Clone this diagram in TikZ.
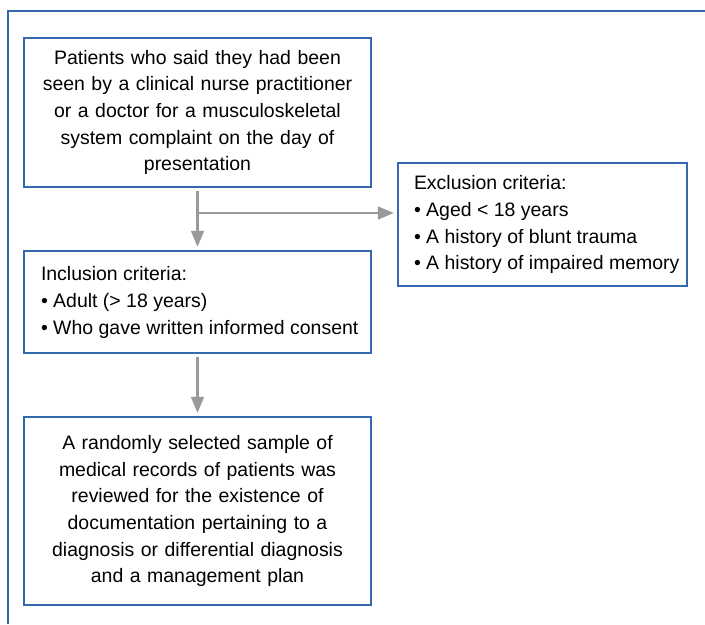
\documentclass[tikz,border=0pt]{standalone}
\usepackage{fontspec}
\setmainfont{Liberation Sans}
\usepackage{tikz}
\usetikzlibrary{arrows.meta}
\definecolor{frameblue}{HTML}{3468B0}
\definecolor{arrowgray}{HTML}{9A9A9A}

\begin{document}
\begin{tikzpicture}[x=0.75pt,y=-0.75pt,
	font=\fontsize{14.6}{20}\selectfont,
	box/.style={draw=frameblue,line width=1.1pt,inner sep=0pt,minimum width=260.25pt},
	flow/.style={-{Triangle[length=12pt,width=9.5pt]},line width=1.9pt,color=arrowgray,shorten <=2.5pt,shorten >=2.5pt}]
	\useasboundingbox (0,0) rectangle (705,624);
	\draw [frameblue,line width=0.9pt] (8,624) -- (8,11) -- (705,11);

	\node [box,minimum height=111.75pt,text width=240pt,align=center] (patients) at (197.5,112.5)
		{Patients who said they had been\\ seen by a clinical nurse practitioner\\ or a doctor for a musculoskeletal\\ system complaint on the day of\\ presentation};
	\node [box,minimum height=76.5pt] (inclusion) at (197.5,302)
		{\hspace*{12.75pt}\makebox[247.5pt][l]{\begin{tabular}{@{}l@{}}
		Inclusion criteria:\\
		\textbullet\ Adult (> 18 years)\\
		\textbullet\ Who gave written informed consent
		\end{tabular}}};
	\node [box,minimum width=216.75pt,minimum height=92.25pt] (exclusion) at (542.5,224.5)
		{\hspace*{12pt}\makebox[204.75pt][l]{\begin{tabular}{@{}l@{}}
		Exclusion criteria:\\
		\textbullet\ Aged < 18 years\\
		\textbullet\ A history of blunt trauma\\
		\textbullet\ A history of impaired memory
		\end{tabular}}};
	\node [box,minimum height=141pt,text width=247.5pt,align=center] (records) at (197.5,511)
		{A randomly selected sample of\\ medical records of patients was\\ reviewed for the existence of\\ documentation pertaining to a\\ diagnosis or differential diagnosis\\ and a management plan};

	\coordinate (split) at (197.5,213);
	\draw [flow] (patients.south) -- (inclusion.north);
	\draw [flow,shorten <=0pt] (split) -- (split -| exclusion.west);
	\draw [flow] (inclusion.south) -- (records.north);
\end{tikzpicture}
\end{document}
